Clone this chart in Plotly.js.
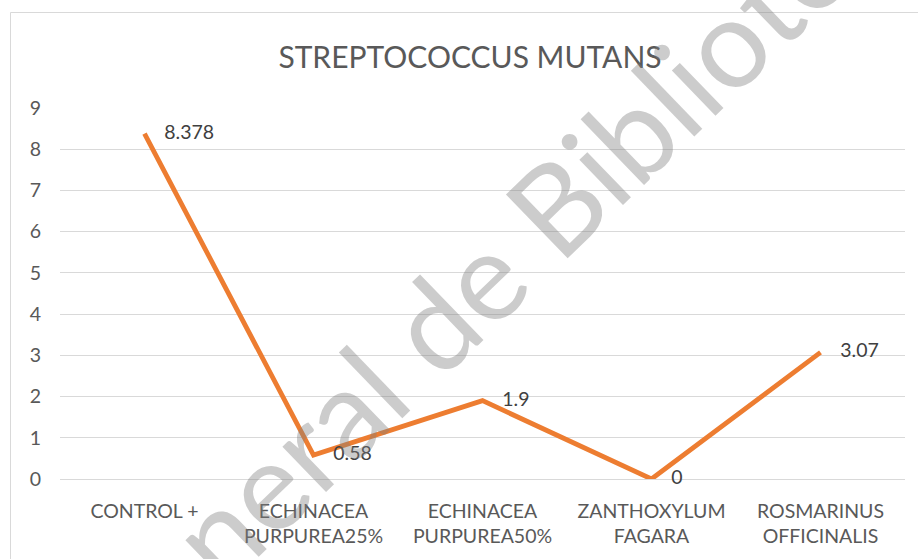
<!DOCTYPE html>
<html>
<head>
<meta charset="utf-8">
<script src="https://cdn.plot.ly/plotly-3.0.1.min.js"></script>
<style>
  html, body { margin: 0; padding: 0; background: #ffffff; }
  #chart { width: 918px; height: 559px; }
</style>
</head>
<body>
<div id="chart"></div>
<script>
const categories = [
  "CONTROL +",
  "ECHINACEA<br>PURPUREA25%",
  "ECHINACEA<br>PURPUREA50%",
  "ZANTHOXYLUM<br>FAGARA",
  "ROSMARINUS<br>OFFICINALIS"
];
const values = [8.378, 0.58, 1.9, 0, 3.07];
const valueLabels = ["8.378", "0.58", "1.9", "0", "3.07"];
const yTicks = [0, 1, 2, 3, 4, 5, 6, 7, 8, 9];
const chartTitle = "STREPTOCOCCUS MUTANS";
const watermark = "General de Biblioteca";

const font = "Lato, 'Open Sans', sans-serif";

const trace = {
  type: "scatter",
  mode: "lines+markers+text",
  x: categories,
  y: values,
  text: valueLabels,
  textposition: "middle right",
  textfont: { family: font, size: 19.5, color: "#404040" },
  cliponaxis: false,
  line: { color: "#ED7D31", width: 4.8 },
  marker: { size: 30, color: "rgba(0,0,0,0)" },
  hoverinfo: "x+y"
};

const layout = {
  width: 918,
  height: 559,
  margin: { l: 60, r: 13, t: 108, b: 80 },
  paper_bgcolor: "#ffffff",
  plot_bgcolor: "#ffffff",
  showlegend: false,
  title: {
    text: chartTitle,
    font: { family: font, size: 30, color: "#595959" },
    xref: "container", x: 470 / 918, xanchor: "center",
    yref: "container", y: 1 - 57 / 559, yanchor: "middle"
  },
  xaxis: {
    type: "category",
    range: [-0.5, categories.length - 0.5],
    autorange: false,
    showgrid: false,
    showline: false,
    zeroline: false,
    ticks: "",
    tickfont: { family: font, size: 19.5, color: "#595959" },
    ticklabelstandoff: 18,
    fixedrange: true
  },
  yaxis: {
    range: [0, 9],
    autorange: false,
    tickvals: yTicks,
    ticktext: yTicks.map(String),
    showgrid: true,
    gridcolor: "#d9d9d9",
    gridwidth: 1,
    zeroline: true,
    zerolinecolor: "#d9d9d9",
    zerolinewidth: 1,
    showline: false,
    ticks: "",
    tickfont: { family: font, size: 19.5, color: "#595959" },
    ticklabelstandoff: 18,
    fixedrange: true
  },
  shapes: [{
    type: "rect",
    xref: "paper", yref: "paper",
    x0: (10.5 - 60) / 845, x1: 1.3,
    y0: -0.5, y1: (479 - 12.5) / 371,
    line: { color: "#d9d9d9", width: 1 },
    fillcolor: "rgba(0,0,0,0)",
    layer: "below"
  }],
  annotations: [{
    text: watermark,
    xref: "paper", yref: "paper",
    x: (495 - 60) / 845, y: (479 - 262) / 371,
    xanchor: "center", yanchor: "middle",
    textangle: -44,
    showarrow: false,
    font: { family: font, size: 124, color: "rgba(128,128,128,0.4)" }
  }]
};

Plotly.newPlot("chart", [trace], layout, { displayModeBar: false, staticPlot: true });
</script>
</body>
</html>
